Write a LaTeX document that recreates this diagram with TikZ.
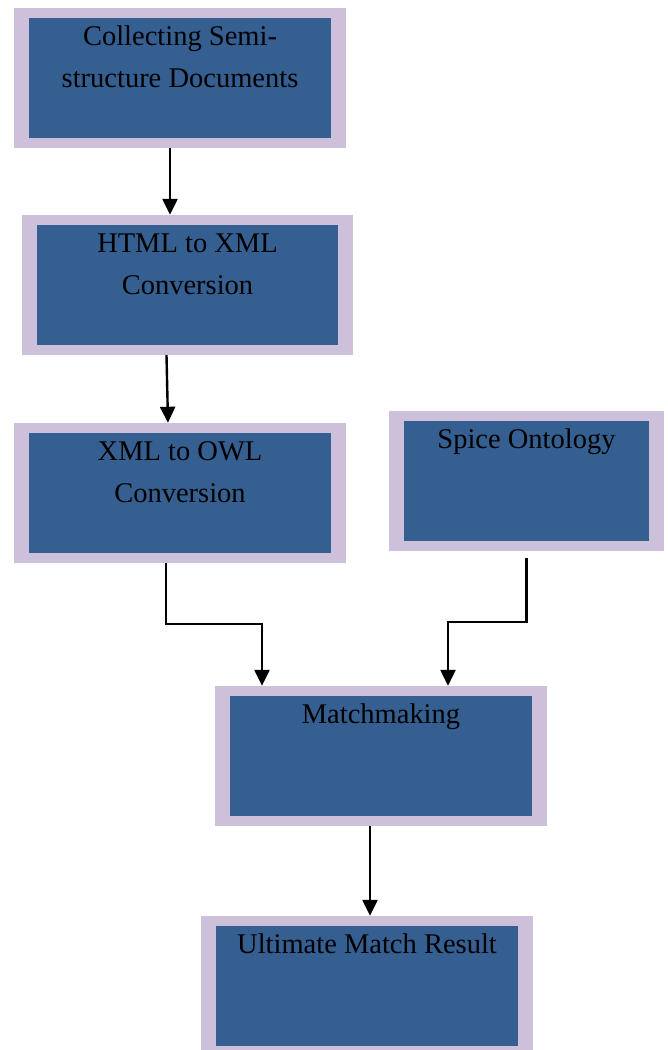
\documentclass[tikz,border=0pt]{standalone}
\usepackage{fontspec}
\setmainfont{Liberation Serif}
\usetikzlibrary{arrows.meta}
\definecolor{boxblue}{HTML}{355F91}
\definecolor{boxlilac}{HTML}{CCC0DA}
\tikzset{
  procbox/.style={rectangle, fill=boxlilac, minimum width=332pt, minimum height=140pt, inner sep=0pt,
    path picture={\fill[boxblue] ([xshift=15pt,yshift=10pt]path picture bounding box.south west)
      rectangle ([xshift=-15pt,yshift=-10pt]path picture bounding box.north east);}},
  boxtext/.style={align=center, inner sep=0pt, anchor=base, font=\fontsize{28.5}{42}\selectfont},
  flow/.style={draw=black, line width=2.4pt, -{Triangle[width=15pt,length=16pt]}}
}
\begin{document}
\begin{tikzpicture}[x=1pt, y=-1pt]
\useasboundingbox (0,0) rectangle (668,1050);
\node[procbox] (collect) at (180,78) {};
\node[procbox, minimum width=331pt] (html) at (187.5,285) {};
\node[procbox] (xmlowl) at (180,493) {};
\node[procbox, minimum width=275pt] (spice) at (526.5,481) {};
\node[procbox] (match) at (381,756) {};
\node[procbox] (final) at (367,986) {};
% labels (base = last line)
\node[boxtext] (collectT) at ([yshift=-80pt]collect.north) {Collecting Semi-\\structure Documents};
\node[boxtext] (htmlT) at ([yshift=-80pt]html.north) {HTML to XML\\Conversion};
\node[boxtext] (xmlowlT) at ([yshift=-80pt]xmlowl.north) {XML to OWL\\Conversion};
\node[boxtext] (spiceT) at ([yshift=-38pt]spice.north) {Spice Ontology};
\node[boxtext] (matchT) at ([yshift=-38pt]match.north) {Matchmaking};
\node[boxtext] (finalT) at ([yshift=-38pt]final.north) {Ultimate Match Result};
% arrows
\draw[flow] ([xshift=-10pt]collect.south) -- ([xshift=-10pt]collect.south |- html.north);
\draw[flow] ([xshift=-21pt]html.south) -- ([xshift=-12pt]xmlowl.north);
\draw[flow] ([xshift=-14pt]xmlowl.south) -- ++(0,61) -| ([xshift=-119pt]match.north);
\draw[flow] ([yshift=-7pt]spice.south) -- ++(0,64) -| ([xshift=67pt]match.north);
\draw[flow] ([xshift=-11pt]match.south) -- ([xshift=3pt]final.north);
\end{tikzpicture}
\end{document}
